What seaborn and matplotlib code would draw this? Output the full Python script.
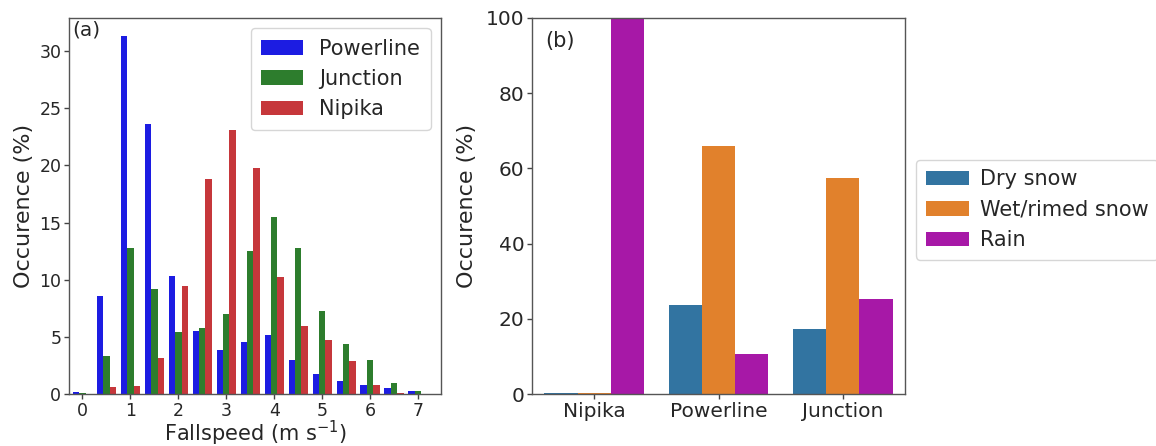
import numpy as np
import pandas as pd
import matplotlib
matplotlib.use("Agg")
import matplotlib.pyplot as plt
import seaborn as sns

# Fall-speed histogram (bin centres, m/s) and occurrence per site (%)
fallspeed = [0.0, 0.5, 1.0, 1.5, 2.0, 2.5, 3.0, 3.5, 4.0, 4.5, 5.0, 5.5, 6.0, 6.5, 7.0]
powerline = [0.23, 8.6, 31.3, 23.6, 10.3, 5.5, 3.9, 4.6, 5.16, 2.98, 1.74, 1.13, 0.84, 0.55, 0.26]
junction = [0.09, 3.33, 12.8, 9.2, 5.4, 5.8, 7.0, 12.5, 15.5, 12.8, 7.25, 4.38, 3.04, 0.96, 0.32]
nipika = [0.0, 0.6, 0.75, 3.2, 9.45, 18.8, 23.1, 19.8, 10.26, 5.97, 4.78, 2.9, 0.84, 0.1, 0.0]
hist_sites = ["Powerline", "Junction", "Nipika"]

# Precipitation type fractions per site (%)
sites = ["Nipika", "Powerline", "Junction"]
precip_types = ["Dry snow", "Wet/rimed snow", "Rain"]
dry_snow = [0.3, 23.7, 17.4]
wet_snow = [0.4, 66.0, 57.4]
rain = [99.6, 10.6, 25.3]

hist_df = pd.DataFrame({
    "Fallspeed": fallspeed * 3,
    "Occurence": powerline + junction + nipika,
    "Site": np.repeat(hist_sites, len(fallspeed)),
})
type_df = pd.DataFrame({
    "Site": sites * 3,
    "Occurence": dry_snow + wet_snow + rain,
    "Type": np.repeat(precip_types, len(sites)),
})

sns.set_style("white")
plt.rcParams["font.family"] = ["DejaVu Sans"]

fig = plt.figure(figsize=(11.56, 4.46), dpi=100)
ax1 = fig.add_axes([0.0597, 0.1159, 0.3218, 0.8444])
ax2 = fig.add_axes([0.4602, 0.1159, 0.3227, 0.8444])

# (a) fall-speed distributions
sns.barplot(data=hist_df, x="Fallspeed", y="Occurence", hue="Site",
            native_scale=True, palette=["#1c1ce2", "#2d7d2d", "#c6373b"],
            saturation=1, width=0.8, ax=ax1, linewidth=0)
ax1.set_xlim(-0.28, 7.48)
ax1.set_ylim(0, 32.9)
ax1.set_xticks(range(0, 8))
ax1.set_yticks(range(0, 31, 5))
ax1.tick_params(axis="both", labelsize=12.5, length=3.5, width=1, pad=2,
                left=True, bottom=True, color="#444444")
ax1.set_xlabel("Fallspeed (m s$^{-1}$)", fontsize=15, labelpad=-1)
ax1.set_ylabel("Occurence (%)", fontsize=16, labelpad=4)
ax1.text(0.008, 0.993, "(a)", transform=ax1.transAxes, fontsize=14.5, va="top", ha="left")
ax1.legend(loc="upper right", fontsize=15, title=None, frameon=True,
           handlelength=2.0, borderpad=0.5, labelspacing=0.5)

# (b) precipitation type by site
sns.barplot(data=type_df, x="Site", y="Occurence", hue="Type",
            palette=["tab:blue", "tab:orange", "m"], saturation=0.75,
            ax=ax2, linewidth=0)
ax2.set_ylim(0, 100)
ax2.set_yticks(range(0, 101, 20))
ax2.tick_params(axis="both", labelsize=14.5, length=3.5, width=1, pad=2,
                left=True, bottom=True, color="#444444")
ax2.set_xlabel("")
ax2.set_ylabel("Occurence (%)", fontsize=16, labelpad=6)
ax2.text(0.035, 0.965, "(b)", transform=ax2.transAxes, fontsize=15, va="top", ha="left")
ax2.legend(loc="center left", bbox_to_anchor=(1.03, 0.49), borderaxespad=0,
           fontsize=15, title=None, frameon=True, handlelength=2.1,
           handletextpad=0.5, borderpad=0.45, labelspacing=0.5)

for ax in (ax1, ax2):
    for sp in ax.spines.values():
        sp.set_color("#555555")
        sp.set_linewidth(1.0)

fig.savefig("out.png", dpi=100)
